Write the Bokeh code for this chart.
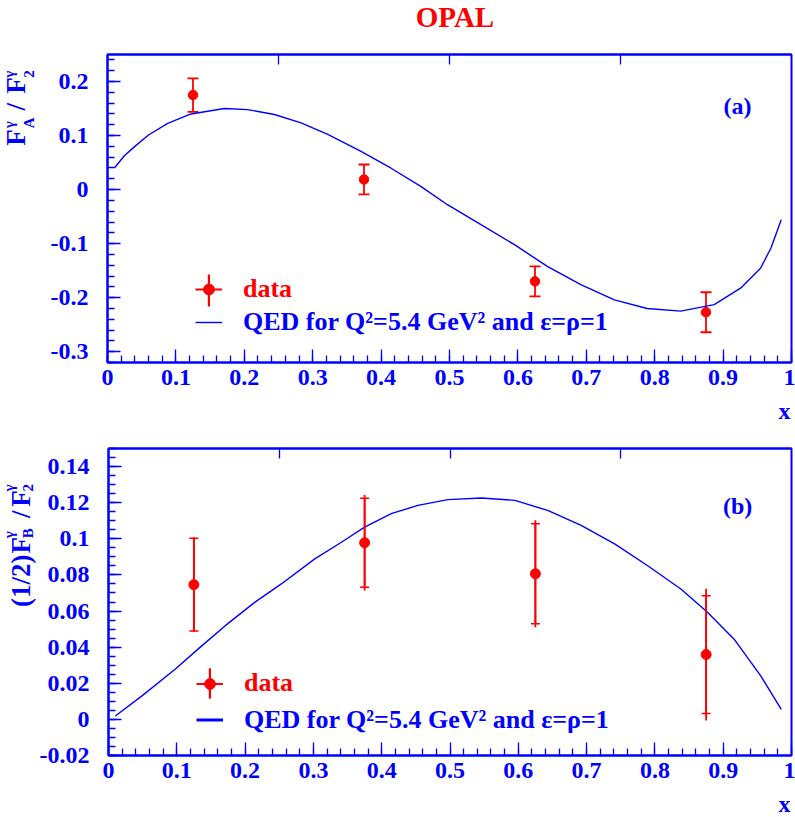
import numpy as np
from bokeh.plotting import figure
from bokeh.layouts import column, row
from bokeh.models import (ColumnDataSource, Range1d, Legend, LegendItem, Label, Whisker,
                          TeeHead, LinearAxis, FixedTicker, CustomJSTickFormatter)
from bokeh.embed import file_html
from bokeh.resources import INLINE

# ---------------- data ----------------
x_pts = [0.125, 0.375, 0.625, 0.875]

# panel (a): F_A / F_2
fa_val = [0.175, 0.0187, -0.1698, -0.227]
fa_err = [0.031, 0.0277, 0.0278, 0.037]

# panel (b): (1/2) F_B / F_2
fb_val = [0.0746, 0.0978, 0.0806, 0.0359]
fb_stat = [0.0257, 0.0247, 0.0277, 0.0326]
fb_tot = [0.0262, 0.0264, 0.0296, 0.0365]

# QED curves
qa_x = [0.01, 0.025, 0.04, 0.06, 0.088, 0.122, 0.171, 0.205, 0.244, 0.283, 0.322, 0.370,
        0.414, 0.458, 0.497, 0.546, 0.595, 0.643, 0.692, 0.741, 0.789, 0.838, 0.887,
        0.926, 0.955, 0.970, 0.985]
qa_y = [0.040, 0.063, 0.080, 0.101, 0.1225, 0.140, 0.150, 0.148, 0.139, 0.1235, 0.102, 0.071,
        0.040, 0.006, -0.028, -0.065, -0.102, -0.142, -0.176, -0.204, -0.220, -0.225, -0.213,
        -0.182, -0.145, -0.108, -0.056]

qb_x = [0.01, 0.049, 0.0975, 0.1365, 0.171, 0.214, 0.253, 0.302, 0.341, 0.375, 0.414, 0.453,
        0.497, 0.546, 0.595, 0.643, 0.692, 0.741, 0.789, 0.838, 0.877, 0.916, 0.955, 0.985]
qb_y = [0.0019, 0.013, 0.0278, 0.0407, 0.0519, 0.0648, 0.075, 0.0889, 0.0981, 0.1065, 0.1139,
        0.1185, 0.1217, 0.1226, 0.1213, 0.1157, 0.1074, 0.0972, 0.0852, 0.0722, 0.0593, 0.0444,
        0.0241, 0.0056]

# ticks
x_ticks = [0, 0.1, 0.2, 0.3, 0.4, 0.5, 0.6, 0.7, 0.8, 0.9, 1]
x_tick_labels = ["0", "0.1", "0.2", "0.3", "0.4", "0.5", "0.6", "0.7", "0.8", "0.9", "1"]
ya_ticks = [-0.3, -0.2, -0.1, 0, 0.1, 0.2]
ya_tick_labels = ["-0.3", "-0.2", "-0.1", "0", "0.1", "0.2"]
yb_ticks = [-0.02, 0, 0.02, 0.04, 0.06, 0.08, 0.1, 0.12, 0.14]
yb_tick_labels = ["-0.02", "0", "0.02", "0.04", "0.06", "0.08", "0.1", "0.12", "0.14"]
top_ticks = [0.25, 0.5, 0.75]

title_text = "OPAL"
legend_data = "data"
legend_qed = "QED for Q\u00b2=5.4 GeV\u00b2 and \u03b5=\u03c1=1"

# ---------------- style / layout (page pixels) ----------------
BLUE = "#0000ff"
RED = "#ff0000"
FONT = "Liberation Serif"
PW = 795                    # page width
PH = 816                    # page height used
YL_W = 36                   # width of the y-label strips
FL, FW = 107, 684           # frame left and width
TOP_FIG_Y, TOP_FIG_H, TOP_Y0, TOP_H = 46, 351, 54, 308
BOT_FIG_Y, BOT_FIG_H, BOT_Y0, BOT_H = 426, 364, 448, 307
YA = (-0.32, 0.25)
YB = (-0.02, 0.15)

fmt = CustomJSTickFormatter(code="return Number(tick.toFixed(3)).toString();")


def make_fig(fig_y, fig_h, f_y0, f_h, yr, yticks, ylabels, yminor):
    w = PW - YL_W
    p = figure(width=w, height=fig_h, x_range=Range1d(0, 1), y_range=Range1d(*yr),
               output_backend="svg", toolbar_location=None,
               min_border_left=FL - YL_W, min_border_right=w - (FL - YL_W) - FW,
               min_border_top=f_y0 - fig_y, min_border_bottom=fig_y + fig_h - (f_y0 + f_h))
    p.xgrid.visible = False
    p.ygrid.visible = False
    p.outline_line_color = BLUE
    p.outline_line_width = 2
    p.background_fill_color = "white"
    p.border_fill_color = "white"

    xminor = [round(v, 4) for v in np.arange(0, 1.0001, 0.02)]
    p.xaxis.ticker = FixedTicker(ticks=x_ticks, minor_ticks=xminor)
    p.xaxis.major_label_overrides = dict(zip(x_ticks, x_tick_labels))
    p.yaxis.ticker = FixedTicker(ticks=yticks, minor_ticks=yminor)
    p.yaxis.major_label_overrides = dict(zip(yticks, ylabels))
    for ax in (p.xaxis[0], p.yaxis[0]):
        ax.formatter = fmt
        ax.axis_line_color = BLUE
        ax.axis_line_width = 2
        ax.major_tick_line_color = BLUE
        ax.minor_tick_line_color = BLUE
        ax.major_tick_line_width = 1.3
        ax.minor_tick_line_width = 1.3
        ax.major_tick_in = 13
        ax.major_tick_out = 0
        ax.minor_tick_in = 7
        ax.minor_tick_out = 0
        ax.major_label_text_color = BLUE
        ax.major_label_text_font = FONT
        ax.major_label_text_font_style = "bold"
        ax.major_label_text_font_size = "24px"
    p.xaxis.major_label_standoff = 7
    p.yaxis.major_label_standoff = 19

    top = LinearAxis(ticker=FixedTicker(ticks=top_ticks), major_tick_in=10, major_tick_out=0,
                     minor_tick_line_color=None, major_label_text_color=None,
                     major_label_text_font_size="1px", major_label_standoff=0,
                     axis_line_color=BLUE, axis_line_width=2,
                     major_tick_line_color=BLUE, major_tick_line_width=1.3)
    p.add_layout(top, "above")
    return p


def make_strip(x0, y0, w, h):
    s = figure(width=w, height=h, x_range=Range1d(0, w), y_range=Range1d(0, h),
               x_axis_type=None, y_axis_type=None, output_backend="svg",
               toolbar_location=None, min_border=0)
    s.outline_line_color = None
    s.background_fill_color = "white"
    s.border_fill_color = "white"
    s.xgrid.visible = False
    s.ygrid.visible = False

    def cv(px, py):
        return px - x0, (y0 + h) - py
    return s, cv


def conv(py0, ph, yr):
    def f(px, py):
        return (px - FL) / FW, yr[1] - (py - py0) / ph * (yr[1] - yr[0])
    return f


def add_text(p, cv, px, py, text, size, color, align="left", angle=0.0):
    # (px, py) is the middle of the text line, in page pixels
    x, y = cv(px, py)
    p.add_layout(Label(x=x, y=y, text=text, text_font=FONT, text_font_style="bold",
                       text_font_size=size, text_color=color, text_align=align,
                       text_baseline="middle", angle=angle))


def add_legends(p, line_r, dot_r, hseg_r, vbar_r, gh, vy_data, vy_qed, gh_v, vy_v):
    common = dict(padding=0, margin=0, spacing=0, border_line_color=None,
                  background_fill_alpha=0, label_text_font=FONT,
                  label_text_font_style="bold", label_text_font_size="26px",
                  label_standoff=21)
    l1 = Legend(items=[LegendItem(label=legend_data, renderers=[hseg_r, dot_r])],
                location=(88, vy_data), glyph_width=27, glyph_height=gh,
                label_text_color=RED, **common)
    l2 = Legend(items=[LegendItem(label=legend_qed, renderers=[line_r])],
                location=(88, vy_qed), glyph_width=27, glyph_height=gh,
                label_text_color=BLUE, **common)
    l3 = Legend(items=[LegendItem(label=" ", renderers=[vbar_r])],
                location=(100, vy_v), glyph_width=3, glyph_height=gh_v,
                label_text_color=RED, **common)
    for l in (l3, l1, l2):
        p.add_layout(l, "center")


ang = np.pi / 2
MAIN, SMALL = "27px", "15px"

# ---------------- title strip ----------------
s_title, cvt = make_strip(0, 0, PW, TOP_FIG_Y)
add_text(s_title, cvt, 454.5, 16.5, title_text, "29px", RED, align="center")

# ---------------- top panel (a) ----------------
ya_minor = [round(v, 4) for v in np.arange(-0.32, 0.2501, 0.02)]
p1 = make_fig(TOP_FIG_Y, TOP_FIG_H, TOP_Y0, TOP_H, YA, ya_ticks, ya_tick_labels, ya_minor)
cv1 = conv(TOP_Y0, TOP_H, YA)

src_a = ColumnDataSource(dict(x=x_pts, y=fa_val,
                              lo=[v - e for v, e in zip(fa_val, fa_err)],
                              hi=[v + e for v, e in zip(fa_val, fa_err)]))
qa_line = p1.line(qa_x, qa_y, line_color=BLUE, line_width=1.4)
p1.add_layout(Whisker(source=src_a, base="x", lower="lo", upper="hi", dimension="height",
                      line_color=RED, line_width=1.8,
                      upper_head=TeeHead(size=11, line_color=RED, line_width=1.8),
                      lower_head=TeeHead(size=11, line_color=RED, line_width=1.8)))
dot_a = p1.scatter("x", "y", source=src_a, size=9.5, marker="circle",
                   fill_color=RED, line_color=RED)
hseg_a = p1.segment(x0="x", y0="y", x1="x", y1="y", source=src_a, line_color=RED, line_width=2)
vbar_a = p1.vbar(x="x", width=0, bottom="y", top="y", source=src_a, fill_color=RED, line_color=None)
add_legends(p1, qa_line, dot_a, hseg_a, vbar_a, 30, 58, 25, 40, 52.5)
add_text(p1, cv1, 737, 105.5, "(a)", "24px", BLUE, align="center")

ylab1, cvy1 = make_strip(0, TOP_FIG_Y, YL_W, TOP_FIG_H)
pieces_a = [("F", MAIN, 15, 150), ("\u03b3", SMALL, 8.5, 130), ("A", SMALL, 28, 130),
            ("/", MAIN, 15, 109.75), ("F", MAIN, 15, 90.75), ("\u03b3", SMALL, 8.5, 72.5),
            ("2", SMALL, 28, 72.5)]
for t, s, mx, sy in pieces_a:
    add_text(ylab1, cvy1, mx, sy, t, s, BLUE, angle=ang)

# x label strip (a)
xs1_y = TOP_FIG_Y + TOP_FIG_H
xs1, cvx1 = make_strip(0, xs1_y, PW, BOT_FIG_Y - xs1_y)
add_text(xs1, cvx1, 790, 410.5, "x", "24px", BLUE, align="right")

# ---------------- bottom panel (b) ----------------
yb_minor = [round(v, 4) for v in np.arange(-0.02, 0.1501, 0.005)]
p2 = make_fig(BOT_FIG_Y, BOT_FIG_H, BOT_Y0, BOT_H, YB, yb_ticks, yb_tick_labels, yb_minor)
cv2 = conv(BOT_Y0, BOT_H, YB)

src_b = ColumnDataSource(dict(x=x_pts, y=fb_val,
                              lo=[v - e for v, e in zip(fb_val, fb_stat)],
                              hi=[v + e for v, e in zip(fb_val, fb_stat)],
                              tlo=[v - e for v, e in zip(fb_val, fb_tot)],
                              thi=[v + e for v, e in zip(fb_val, fb_tot)]))
p2.line(qb_x, qb_y, line_color=BLUE, line_width=1.4)
p2.segment(x0="x", y0="tlo", x1="x", y1="thi", source=src_b, line_color=RED, line_width=1.8)
p2.add_layout(Whisker(source=src_b, base="x", lower="lo", upper="hi", dimension="height",
                      line_color=RED, line_width=1.8,
                      upper_head=TeeHead(size=9, line_color=RED, line_width=1.5),
                      lower_head=TeeHead(size=9, line_color=RED, line_width=1.5)))
dot_b = p2.scatter("x", "y", source=src_b, size=10, marker="circle",
                   fill_color=RED, line_color=RED)
hseg_b = p2.segment(x0="x", y0="y", x1="x", y1="y", source=src_b, line_color=RED, line_width=2)
vbar_b = p2.vbar(x="x", width=0, bottom="y", top="y", source=src_b, fill_color=RED, line_color=None)
qseg_b = p2.segment(x0="x", y0="y", x1="x", y1="y", source=src_b, line_color=BLUE, line_width=3)
add_legends(p2, qseg_b, dot_b, hseg_b, vbar_b, 33, 55.5, 19, 38, 53.5)
add_text(p2, cv2, 737, 505.5, "(b)", "24px", BLUE, align="center")

ylab2, cvy2 = make_strip(0, BOT_FIG_Y, YL_W, BOT_FIG_H)
pieces_b = [("(1/2)", MAIN, 20, 614), ("F", MAIN, 20, 550.5), ("\u03b3", SMALL, 8.5, 532.5),
            ("B", SMALL, 27.5, 532.5), ("/", MAIN, 20, 508.5), ("F", MAIN, 20, 495),
            ("\u03b3", SMALL, 8.5, 477), ("2", SMALL, 27.5, 477)]
for t, s, mx, sy in pieces_b:
    add_text(ylab2, cvy2, mx, sy, t, s, BLUE, angle=ang)

# x label strip (b)
xs2_y = BOT_FIG_Y + BOT_FIG_H
xs2, cvx2 = make_strip(0, xs2_y, PW, PH - xs2_y)
add_text(xs2, cvx2, 790, 803, "x", "24px", BLUE, align="right")

layout = column(s_title, row(ylab1, p1), xs1, row(ylab2, p2), xs2)
open("out.html", "w").write(file_html(layout, INLINE))
